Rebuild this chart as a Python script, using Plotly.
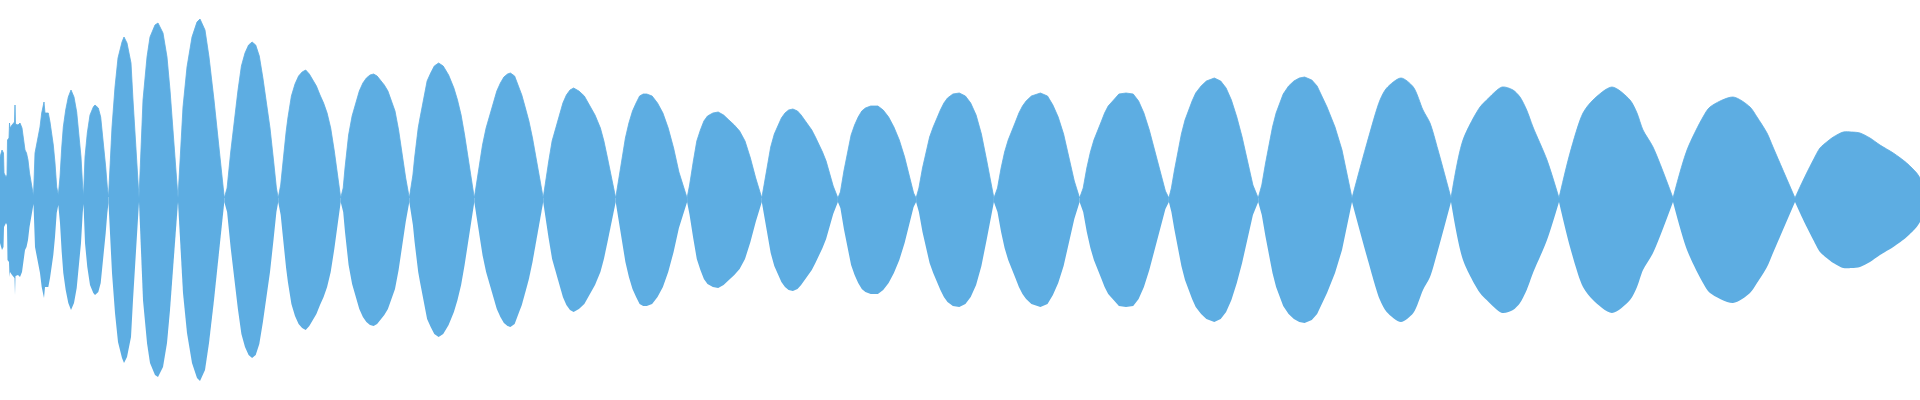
import plotly.graph_objects as go

# Waveform envelope (position along the track, amplitude in arbitrary units)
# Noisy onset section (drawn with straight segments)
pos_onset = [0, 2, 3.5, 4, 6, 7, 7.5, 9, 9.5, 10, 12, 14.5, 15, 15.5, 18, 20, 22, 23.5, 25, 26.5, 28, 29.5, 31, 32.5, 33.5,
             35, 37.3, 40, 41.7, 44, 45, 48.3, 50, 51.7, 53.3, 55, 56.7, 58.3,
             60, 61.7, 63.3, 65.7, 68.3, 71, 74, 76.7, 79, 81, 82.7, 83.5,
             85, 87.3, 90, 93.3, 95, 98.3, 100.7, 103.3, 105.7, 107.3, 108.5]
amp_onset = [43, 50, 47, 27, 23, 25, 60, 62, 77, 72, 75, 78, 95, 76, 75, 77, 72, 58, 50, 47, 40, 27, 17, 8, 4,
             47, 60, 73, 87, 98, 87, 87, 78, 68, 55, 37, 13, 5,
             23, 52, 73, 90, 103, 110, 103, 88, 67, 43, 13, 4,
             43, 67, 85, 93, 95, 92, 83, 60, 33, 13, 3]

# Smooth body section: each lobe runs from one near-zero crossing to the next
pos_body = [108.5, 110, 112, 115, 118, 122, 124, 127, 131, 133, 136, 138, 139,
            141, 143, 147, 150, 155, 158, 163, 167, 170, 173, 176, 178,
            180, 183, 187, 192, 197, 200, 205, 209, 214, 218, 222, 224.3,
            227.1, 230.7, 234.3, 237.9, 241.4, 245, 248.6, 252.1, 255.7, 259.3, 262.9, 266.4, 270, 273.6, 276.4, 278.2,
            280.7, 282.5, 284.3, 286.1, 287.9, 289.6, 291.4, 295, 298.6, 302.1, 305.7, 309.3, 312.9, 316.4, 320, 323.6,
            327.1, 330.7, 334.3, 337.9, 340.7,
            343.2, 345, 346.8, 348.6, 352.1, 355.7, 359.3, 362.9, 366.4, 370, 373.6, 377.1, 380.7, 384.3, 387.9, 391.4,
            395, 398.6, 402.1, 405.7, 409.3,
            411.1, 412.9, 414.6, 416.4, 418.2, 420, 423.6, 427.1, 430.7, 434.3, 438.6, 443.2, 448.6, 453.9, 457.5, 461.1,
            464.6, 468.2, 471.8, 474.3,
            476.4, 478.9, 482.5, 486.1, 489.6, 493.2, 496.8, 500.4, 503.9, 507.5, 510.4, 514.6, 518.2, 521.8, 525.4,
            528.9, 532.5, 536.1, 539.6, 543.2,
            545, 548.6, 552.1, 555.7, 559.3, 562.9, 566.4, 570, 573.6, 578.9, 584.3, 589.6, 595, 600.4, 603.9, 607.5,
            611.1, 615.7,
            618.2, 621.8, 625.4, 628.9, 632.5, 636.1, 639.6, 643.2, 646.8, 652.1, 657.5, 662.9, 668.2, 673.6, 678.9, 687.1,
            689.6, 693.2, 696.8, 700.4, 703.9, 707.5, 712.9, 718.2, 723.6, 728.9, 734.3, 739.6, 745, 750.4, 755.7, 761.8,
            763.6, 767.1, 770.7, 774.3, 777.9, 781.4, 785, 788.6, 792.9, 797.5, 801.1, 804.6, 808.2, 811.8, 815.4, 818.9,
            822.5, 826.1, 829.6, 833.2, 837.9,
            840.4, 843.9, 847.5, 851.1, 854.6, 858.2, 861.8, 865.4, 870.7, 874.3, 877.9, 883.2, 888.6, 893.9, 899.3,
            904.6, 910, 913.6, 916.1,
            918.9, 922.5, 926.1, 929.6, 933.2, 936.8, 940.4, 943.9, 947.5, 952.9, 959.3, 965.4, 970.7, 976.1, 981.4,
            986.8, 990.4, 993.9,
            997.5, 1001.1, 1004.6, 1008.2, 1011.8, 1015.4, 1018.9, 1022.5, 1026.1, 1031.4, 1040.4, 1047.5, 1052.9,
            1058.2, 1063.6, 1068.9, 1074.3, 1079.6,
            1083.2, 1086.8, 1090.4, 1093.9, 1097.5, 1101.1, 1104.6, 1108.2, 1113.6, 1118.9, 1126, 1133.2, 1138.6,
            1143.9, 1149.3, 1154.6, 1160, 1165.4, 1168.9,
            1171.4, 1174.3, 1177.9, 1181.4, 1185, 1188.6, 1192.1, 1195.7, 1201.1, 1206.4, 1214.3, 1220.7, 1226.1,
            1231.4, 1236.8, 1242.1, 1247.5, 1252.9, 1258.2,
            1261.8, 1265.4, 1268.9, 1272.5, 1276.1, 1279.6, 1283.2, 1288.6, 1293.9, 1299.3, 1304.6, 1311.8, 1317.1,
            1327, 1335, 1342, 1352,
            1367, 1380, 1386.7, 1401, 1413.3, 1423, 1430, 1438, 1451,
            1463, 1480, 1486.7, 1502, 1513, 1520, 1526.7, 1533, 1547, 1559,
            1570, 1583, 1593, 1612, 1630, 1637, 1643, 1653, 1673,
            1687, 1703, 1710, 1733, 1750, 1757, 1767, 1773, 1795,
            1800, 1806.7, 1813.3, 1820, 1826.7, 1833.3, 1843.3, 1851.7, 1860, 1870, 1880, 1893.3, 1906.7, 1916.7, 1920]
amp_body = [3, 33, 73, 113, 142, 158, 163, 157, 137, 100, 53, 20, 2,
            50, 100, 143, 163, 175, 177, 167, 143, 110, 67, 27, 2,
            40, 93, 133, 163, 178, 181, 170, 143, 100, 60, 23, 2,
            12, 48, 82, 109, 134, 147, 155, 158, 155, 144, 122, 99, 72, 39, 12, 2,
            15, 33, 52, 68, 82, 94, 104, 116, 124, 128, 130, 126, 120, 114, 105, 97,
            87, 72, 49, 22, 2,
            12, 32, 52, 65, 84, 97, 109, 117, 122, 125, 126, 124, 120, 115, 109, 100,
            89, 70, 45, 22, 2,
            12, 25, 42, 59, 72, 82, 102, 119, 127, 134, 137, 134, 125, 112, 100, 85,
            65, 42, 18, 2,
            15, 35, 55, 72, 85, 97, 109, 117, 123, 126, 127, 124, 115, 105, 92,
            79, 62, 42, 22, 2,
            15, 38, 59, 72, 85, 97, 105, 110, 112, 109, 104, 95, 85, 72, 59, 42,
            25, 2,
            18, 42, 62, 77, 89, 97, 104, 106, 106, 104, 97, 87, 72, 52, 28, 2,
            15, 38, 59, 70, 79, 84, 87, 88, 85, 80, 75, 69, 59, 42, 22, 2,
            12, 32, 53, 66, 75, 82, 87, 90, 91, 89, 85, 80, 75, 70, 63, 56,
            48, 39, 27, 14, 2,
            8, 29, 49, 65, 75, 83, 89, 92, 94, 94, 94, 90, 83, 73, 60,
            43, 22, 7, 2,
            12, 32, 49, 63, 73, 82, 90, 97, 102, 106, 107, 104, 97, 85, 66,
            39, 19, 2,
            12, 32, 48, 60, 70, 78, 87, 94, 99, 104, 107, 104, 95,
            83, 66, 43, 19, 2,
            12, 32, 48, 60, 70, 78, 87, 94, 100, 106, 107, 106, 99,
            87, 70, 49, 29, 9, 2,
            12, 29, 49, 66, 80, 90, 99, 107, 114, 119, 122, 119, 112,
            100, 83, 63, 39, 15, 2,
            15, 36, 56, 73, 87, 97, 106, 114, 119, 122, 123, 120, 114,
            93, 73, 50, 2,
            57, 100, 112, 122, 113, 90, 77, 50, 2,
            60, 93, 100, 113, 110, 103, 90, 73, 40, 2,
            47, 87, 100, 113, 100, 87, 70, 53, 2,
            50, 83, 93, 103, 93, 83, 67, 53, 2,
            13, 27, 40, 52, 58, 63, 68, 68, 67, 62, 55, 47, 37, 27, 22]

COLOR = "#5DADE2"

fig = go.Figure()


def add_band(xs, amps, shape):
    fig.add_trace(go.Scatter(x=xs, y=[-a for a in amps], mode="lines",
                             line=dict(width=0, color=COLOR, shape=shape, smoothing=0.8),
                             hoverinfo="skip", showlegend=False))
    fig.add_trace(go.Scatter(x=xs, y=amps, mode="lines", fill="tonexty", fillcolor=COLOR,
                             line=dict(width=0.8, color=COLOR, shape=shape, smoothing=0.8),
                             hoverinfo="skip", showlegend=False))


add_band(pos_onset, amp_onset, "linear")

# split the body into lobes at the near-zero crossings so each crossing stays a sharp pinch;
# densely read lobes are joined point to point, sparsely read ones with a spline
start = 0
for i in range(1, len(pos_body)):
    if amp_body[i] <= 3 or i == len(pos_body) - 1:
        xs = pos_body[start:i + 1]
        ys = amp_body[start:i + 1]
        spacing = (xs[-1] - xs[0]) / (len(xs) - 1)
        add_band(xs, ys, "spline" if spacing > 7 else "linear")
        start = i

fig.update_layout(
    width=1920, height=400,
    margin=dict(l=0, r=0, t=0, b=0),
    paper_bgcolor="white", plot_bgcolor="white",
    xaxis=dict(visible=False, range=[0, 1920], fixedrange=True),
    yaxis=dict(visible=False, range=[-200, 200], fixedrange=True),
    showlegend=False,
)

fig.write_html("out.html", config={"staticPlot": True},
               post_script="document.body.style.margin='0px';document.body.style.overflow='hidden';")
